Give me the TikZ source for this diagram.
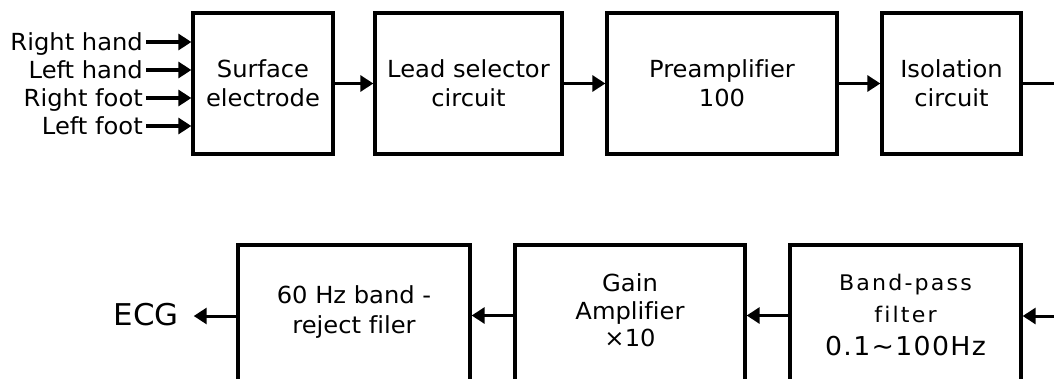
\documentclass[tikz,border=0pt]{standalone}
\usepackage{fontspec}
\setmainfont{DejaVu Sans}[FakeStretch=1.03,Ligatures=NoCommon]
\newfontfamily\bpfont{DejaVu Sans}[FakeStretch=1.03,LetterSpace=10,Ligatures=NoCommon]
\newfontfamily\bpfontb{DejaVu Sans}[FakeStretch=1.03,LetterSpace=5,Ligatures=NoCommon]
\usetikzlibrary{arrows.meta}
\begin{document}
\begin{tikzpicture}[x=1pt,y=-1pt,
  blk/.style={draw,line width=3.3pt,rectangle,minimum width=#1,minimum height=141pt,align=center,inner sep=0pt,
    font=\fontsize{23.5}{29}\selectfont},
  txt/.style={align=center,inner sep=0pt},
  inlbl/.style={anchor=east,inner xsep=3pt,inner ysep=0pt,text height=16pt,text depth=0pt,
    font=\fontsize{23.5}{28}\selectfont},
  conn/.style={line width=3pt,-{Triangle[length=13pt,width=16pt]}},
  inconn/.style={line width=4pt,-{Triangle[length=13pt,width=16pt]}},
  plain/.style={line width=3pt}]
\useasboundingbox (0,0) rectangle (1054,378);
% top row
\node[blk=140pt] (surf) at (263,83.5) {Surface\\electrode};
\node[blk=187pt] (lead) at (468.5,83.5) {Lead selector\\circuit};
\node[blk=230pt] (pre) at (722,83.5) {Preamplifier\\100};
\node[blk=139pt] (iso) at (951.5,83.5) {Isolation\\circuit};
% inputs
\node[inlbl] (rh) at (146,42) {Right hand};
\node[inlbl] (lh) at (146,70) {Left hand};
\node[inlbl] (rf) at (146,98) {Right foot};
\node[inlbl] (lf) at (146,126) {Left foot};
\foreach \n in {rh,lh,rf,lf}
  \draw[inconn] (\n.east) -- (\n.east -| surf.west);
% top connectors
\draw[conn] (surf) -- (lead);
\draw[conn] (lead) -- (pre);
\draw[conn] (pre) -- (iso);
\coordinate (outR) at (1060,83.5);
\draw[plain] (iso.east) -- (outR);
% bottom row
\node[blk=232pt] (rej) at (354,315.5) {};
\node[blk=230pt] (gain) at (630,315.5) {};
\node[blk=231pt] (bp) at (905.5,315.5) {};
\node[txt,font=\fontsize{23.5}{30}\selectfont] (rejT) at (354,311.8) {60 Hz band -\\reject filer};
\node[txt,font=\fontsize{23.5}{27.5}\selectfont] (gainT) at (630,310.5) {Gain\\Amplifier\\×10};
\node[txt,font=\bpfont\fontsize{21.5}{32.5}\selectfont] (bpT) at (905.5,314.7) {Band-pass\\filter\\{\bpfontb\fontsize{26}{32.5}\selectfont 0.1∼100Hz}};
\node[inner sep=0pt,text height=22pt,text depth=0pt,font=\fontsize{30}{30}\selectfont] (ecg) at (146,314) {ECG};
\coordinate (inR) at (1060,316);
\draw[conn] (inR) -- (inR -| bp.east);
\draw[conn] (bp) -- (gain);
\draw[conn] (gain) -- (rej);
\draw[conn] (rej.west |- 0,316) -- ([xshift=15pt]ecg.east |- 0,316);
\end{tikzpicture}
\end{document}
